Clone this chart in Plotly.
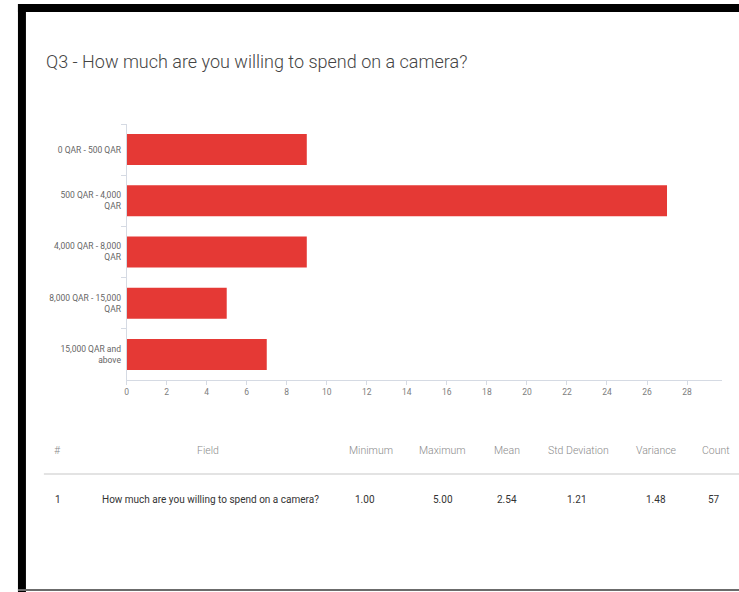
import plotly.graph_objects as go

# Survey answer buckets and response counts
categories = [
    "0 QAR - 500 QAR",
    "500 QAR - 4,000<br>QAR",
    "4,000 QAR - 8,000<br>QAR",
    "8,000 QAR - 15,000<br>QAR",
    "15,000 QAR and<br>above",
]
counts = [9, 27, 9, 5, 7]

x_tick_values = list(range(0, 30, 2))

# Summary statistics table
table_headers = ["#", "Field", "Minimum", "Maximum", "Mean", "Std Deviation", "Variance", "Count"]
table_row = ["1", "How much are you willing to spend on a camera?", "1.00", "5.00", "2.54", "1.21", "1.48", "57"]

title_text = "Q3 - How much are you willing to spend on a camera?"

W, H = 739, 592
FONT = "Roboto, sans-serif"


def px(x):
    return x / W


def py(y):
    return 1 - y / H


fig = go.Figure()
fig.add_trace(go.Bar(
    x=counts,
    y=categories,
    orientation="h",
    marker=dict(color="#e53935", line=dict(width=0)),
    hoverinfo="x+y",
))

axis_color = "#d5dae3"
fig.update_layout(
    width=W,
    height=H,
    margin=dict(l=0, r=0, t=0, b=0),
    paper_bgcolor="white",
    plot_bgcolor="white",
    showlegend=False,
    bargap=0.395,
    xaxis=dict(
        domain=[px(125), px(722)],
        range=[0, 29.75],
        tickvals=x_tick_values,
        ticks="outside",
        ticklen=4,
        tickcolor=axis_color,
        showline=True,
        linecolor=axis_color,
        linewidth=1,
        showgrid=False,
        zeroline=False,
        tickfont=dict(family=FONT, size=8.5, color="#7d7d7d"),
        fixedrange=True,
    ),
    yaxis=dict(
        domain=[py(380), py(124)],
        type="category",
        autorange="reversed",
        tickson="boundaries",
        ticks="outside",
        ticklen=5,
        tickcolor=axis_color,
        ticklabelstandoff=3,
        showline=True,
        linecolor=axis_color,
        linewidth=1,
        showgrid=False,
        zeroline=False,
        tickfont=dict(family=FONT, size=8.5, color="#666666"),
        fixedrange=True,
    ),
)

annotations = []

# Question title
annotations.append(dict(
    text=title_text, xref="paper", yref="paper",
    x=px(42), y=py(61), xanchor="left", yanchor="middle",
    showarrow=False, font=dict(family=FONT, size=18, color="#444444", weight=300),
))

# Table header and the single data row
header_x = [56, 207, 370, 442, 506, 578, 656, 716]
value_x = [56, None, 364, 442, 506, 577, 656, 714]
for i, label in enumerate(table_headers):
    annotations.append(dict(
        text=label, xref="paper", yref="paper",
        x=px(header_x[i]), y=py(450), xanchor="center", yanchor="middle",
        showarrow=False, font=dict(family=FONT, size=10.5, color="#8a8a8a", weight=300),
    ))
for i, val in enumerate(table_row):
    if i == 1:
        annotations.append(dict(
            text=val, xref="paper", yref="paper",
            x=px(98), y=py(499), xanchor="left", yanchor="middle",
            showarrow=False, font=dict(family=FONT, size=10, color="#333333"),
        ))
    else:
        annotations.append(dict(
            text=val, xref="paper", yref="paper",
            x=px(value_x[i]), y=py(499), xanchor="center", yanchor="middle",
            showarrow=False, font=dict(family=FONT, size=10, color="#333333"),
        ))

fig.update_layout(annotations=annotations)

shapes = [
    # frame: top bar, left bar, bottom rule
    dict(type="rect", xref="paper", yref="paper", x0=px(16), x1=1, y0=py(12), y1=py(4),
         fillcolor="black", line=dict(width=0), layer="above"),
    dict(type="rect", xref="paper", yref="paper", x0=px(16), x1=px(24), y0=0, y1=py(4),
         fillcolor="black", line=dict(width=0), layer="above"),
    dict(type="rect", xref="paper", yref="paper", x0=px(16), x1=1, y0=py(591), y1=py(589),
         fillcolor="#6b6b6b", line=dict(width=0), layer="above"),
    # table header separator
    dict(type="line", xref="paper", yref="paper", x0=px(42), x1=1, y0=py(474), y1=py(474),
         line=dict(color="#e3e3e3", width=2)),
]
fig.update_layout(shapes=shapes)

fig.write_html("out.html")
